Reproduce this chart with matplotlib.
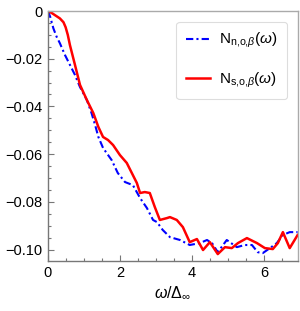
import numpy as np
import matplotlib
matplotlib.use("Agg")
import matplotlib.pyplot as plt
from matplotlib.ticker import MultipleLocator

plt.rcParams['font.family'] = ['Liberation Sans', 'DejaVu Sans']
plt.rcParams['mathtext.fontset'] = 'custom'
plt.rcParams['mathtext.rm'] = 'Liberation Sans'
plt.rcParams['mathtext.it'] = 'Liberation Sans:italic'
plt.rcParams['mathtext.bf'] = 'Liberation Sans:bold'

# N_n,o,beta (blue, dash-dot)
x_n = [0, 0.06, 0.15, 0.24, 0.33, 0.47, 0.61, 0.75, 0.89, 1.08, 1.21, 1.31, 1.40,
       1.53, 1.77, 1.94, 2.14, 2.36, 2.56, 2.75, 2.92, 3.03, 3.19, 3.39, 3.67,
       3.94, 4.22, 4.42, 4.56, 4.72, 4.97, 5.25, 5.47, 5.67, 5.83, 5.97, 6.17,
       6.36, 6.53, 6.72, 6.94]
y_n = [0, -0.0024, -0.0073, -0.0108, -0.0135, -0.0184, -0.0226, -0.0268, -0.0319,
       -0.0373, -0.0428, -0.0478, -0.0528, -0.0574, -0.0625, -0.0679, -0.0717,
       -0.0730, -0.0784, -0.0826, -0.0876, -0.0885, -0.0918, -0.0948, -0.0960,
       -0.0981, -0.0973, -0.0960, -0.0973, -0.1011, -0.0960, -0.0990, -0.0981,
       -0.0981, -0.1011, -0.1015, -0.0994, -0.0973, -0.0939, -0.0927, -0.0927]

# N_s,o,beta (red, solid)
x_s = [0, 0.10, 0.19, 0.33, 0.43, 0.49, 0.55, 0.61, 0.75, 0.89, 1.08, 1.26, 1.40,
       1.53, 1.67, 1.81, 2.0, 2.19, 2.33, 2.47, 2.56, 2.69, 2.83, 2.97, 3.11,
       3.31, 3.39, 3.58, 3.75, 3.94, 4.14, 4.31, 4.5, 4.72, 4.92, 5.11, 5.28,
       5.53, 5.81, 6.03, 6.25, 6.39, 6.53, 6.72, 6.94]
y_s = [0, -0.0008, -0.0017, -0.0031, -0.0047, -0.0068, -0.0100, -0.0143, -0.0226,
       -0.0310, -0.0373, -0.0428, -0.0486, -0.0528, -0.0541, -0.0562, -0.0604,
       -0.0637, -0.0679, -0.0721, -0.0763, -0.0759, -0.0763, -0.0822, -0.0876,
       -0.0868, -0.0864, -0.0876, -0.0906, -0.0969, -0.0956, -0.1002, -0.0969,
       -0.1019, -0.0990, -0.0994, -0.0973, -0.0952, -0.0973, -0.0994, -0.0998,
       -0.0973, -0.0927, -0.0994, -0.0939]

x_ticks = [0, 2, 4, 6]
y_ticks = [0, -0.02, -0.04, -0.06, -0.08, -0.10]
y_labels = ['0', '\u22120.02', '\u22120.04', '\u22120.06', '\u22120.08', '\u22120.10']

fig = plt.figure(figsize=(3.0, 3.11), dpi=100)
ax = fig.add_axes([0.16, 0.1608, 0.8333, 0.8038])

ax.plot(x_n, y_n, color='blue', lw=1.5, linestyle=(0, (3.5, 1.5, 1, 1.5)),
        label=r'$\mathrm{N}_{\mathrm{n{,}o{,}}\beta}(\omega)$')
ax.plot(x_s, y_s, color='red', lw=1.8,
        label=r'$\mathrm{N}_{\mathrm{s{,}o{,}}\beta}(\omega)$')

ax.set_xlim(0, 6.95)
ax.set_ylim(-0.1048, 0)
ax.set_xticks(x_ticks)
ax.set_yticks(y_ticks)
ax.set_yticklabels(y_labels)
ax.xaxis.set_minor_locator(MultipleLocator(0.5))
ax.yaxis.set_minor_locator(MultipleLocator(0.005))
ax.tick_params(which='both', direction='in', colors='#777777', labelcolor='black',
               labelsize=10.5, width=0.8)
ax.tick_params(which='major', length=4)
ax.tick_params(which='minor', length=2.5)
ax.tick_params(axis='y', pad=4)

for s in ['left', 'bottom']:
    ax.spines[s].set_color('#777777')
for s in ['top', 'right']:
    ax.spines[s].set_color('#aaaaaa')
for s in ax.spines.values():
    s.set_linewidth(1.0)

ax.set_xlabel(r'$\omega/\Delta_\infty$', fontsize=11.5, labelpad=3)

leg = ax.legend(loc='upper right', bbox_to_anchor=(0.956, 0.956), borderaxespad=0,
                fontsize=11, labelspacing=1.3, handlelength=1.6, handletextpad=0.6,
                fancybox=True, framealpha=1, edgecolor='#dddddd', borderpad=0.6)
leg.get_frame().set_linewidth(0.8)

fig.savefig('out.png', dpi=100)
